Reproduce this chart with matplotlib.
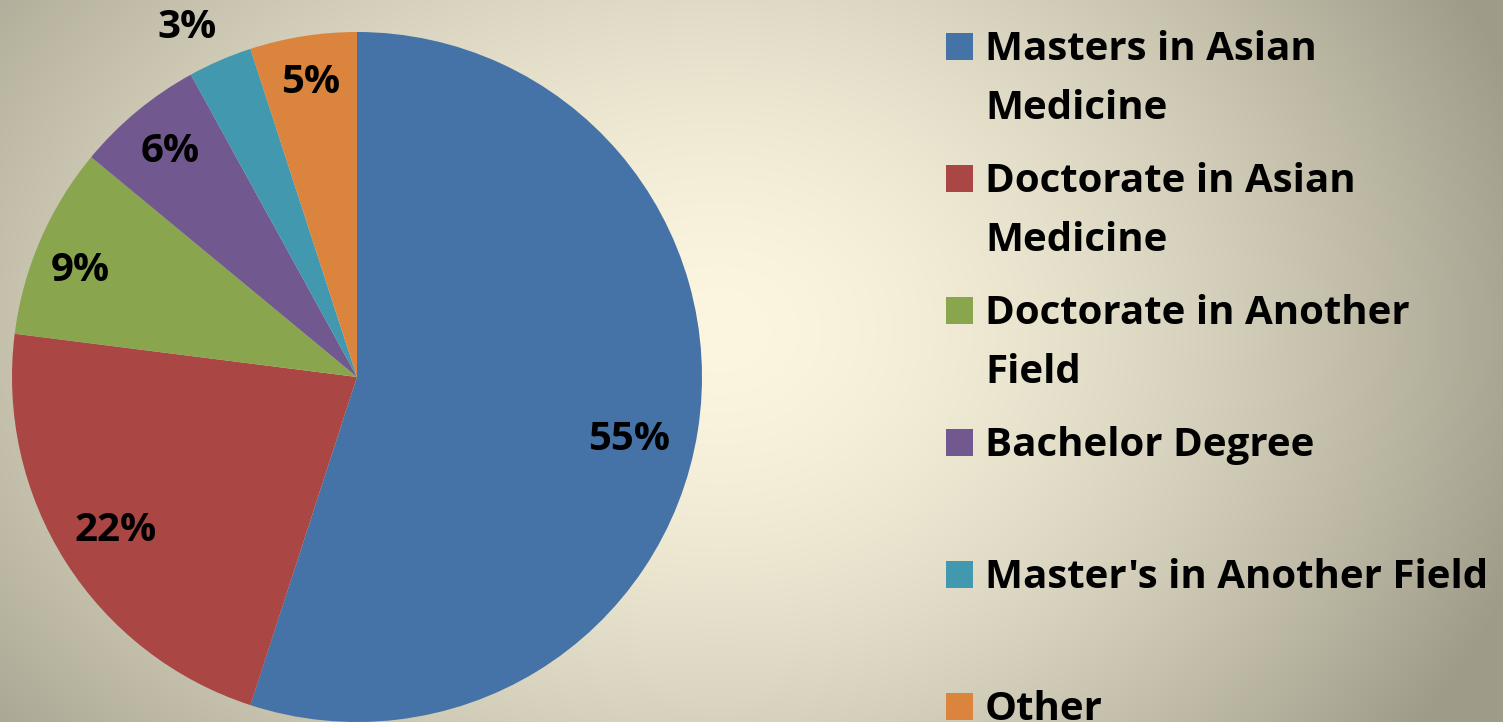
import numpy as np
import matplotlib.pyplot as plt
from matplotlib.colors import to_rgb
from matplotlib.patches import Rectangle

categories = ["Masters in Asian\nMedicine", "Doctorate in Asian\nMedicine",
              "Doctorate in Another\nField", "Bachelor Degree",
              "Master's in Another Field", "Other"]
shares = [55, 22, 9, 6, 3, 5]
colors = ["#4572A7", "#AA4643", "#89A54E", "#71588F", "#4198AF", "#DB843D"]

W, H = 1503, 722
FONT = "Open Sans"
FS = 29

fig = plt.figure(figsize=(W / 100, H / 100), dpi=100)

# radial cream-to-grey background
bg = fig.add_axes([0, 0, 1, 1])
bg.axis("off")
yy, xx = np.mgrid[0:H, 0:W]
dx = xx - 720.0
a = np.where(dx < 0, 1000.0, 850.0)
t = np.sqrt((dx / a) ** 2 + ((yy - 330.0) / 700.0) ** 2)
t = np.clip(t, 0, 1) ** 1.6
c0 = np.array(to_rgb("#FCF6E0"))
c1 = np.array(to_rgb("#9E9B88"))
bg.imshow(c0 + (c1 - c0) * t[..., None], extent=[0, 1, 0, 1], aspect="auto", origin="upper")

# pie, centre (357, 377) px from top-left, radius 345 px
cx, cy, R = 357, 377, 345
ax = fig.add_axes([0, 0, 1, 1])
wedges, texts = ax.pie(shares, colors=colors, startangle=90, counterclock=False,
                       radius=1, wedgeprops=dict(linewidth=0))

# data labels, nudged like Excel's "best fit" placement
lab_r = [0.81, 0.83, 0.86, 0.85, 1.125, 0.865]
lab_dt = [-4, 0, 2.3, 0, 2.5, 0]
for w, v, r, d in zip(wedges, shares, lab_r, lab_dt):
    ang = np.deg2rad((w.theta1 + w.theta2) / 2 + d)
    ax.text(r * np.cos(ang), r * np.sin(ang), f"{v}%", ha="center", va="center",
            fontsize=FS, fontweight="bold", family=FONT, color="black")

ax.set_aspect("auto")
ax.set_xlim(-cx / R, (W - cx) / R)
ax.set_ylim(-(H - cy) / R, cy / R)
ax.axis("off")

# legend drawn like the Excel one: fixed slot per entry
base = 60
for name, col in zip(categories, colors):
    fig.add_artist(Rectangle((946 / W, 1 - base / H), 27 / W, 27 / H,
                             transform=fig.transFigure, color=col, lw=0))
    for i, line in enumerate(name.split("\n")):
        fig.text(985 / W, 1 - (base + i * 59) / H, line, ha="left", va="baseline",
                 fontsize=FS, fontweight="bold", family=FONT, color="black")
    base += 132

fig.savefig("out.png", dpi=100)
